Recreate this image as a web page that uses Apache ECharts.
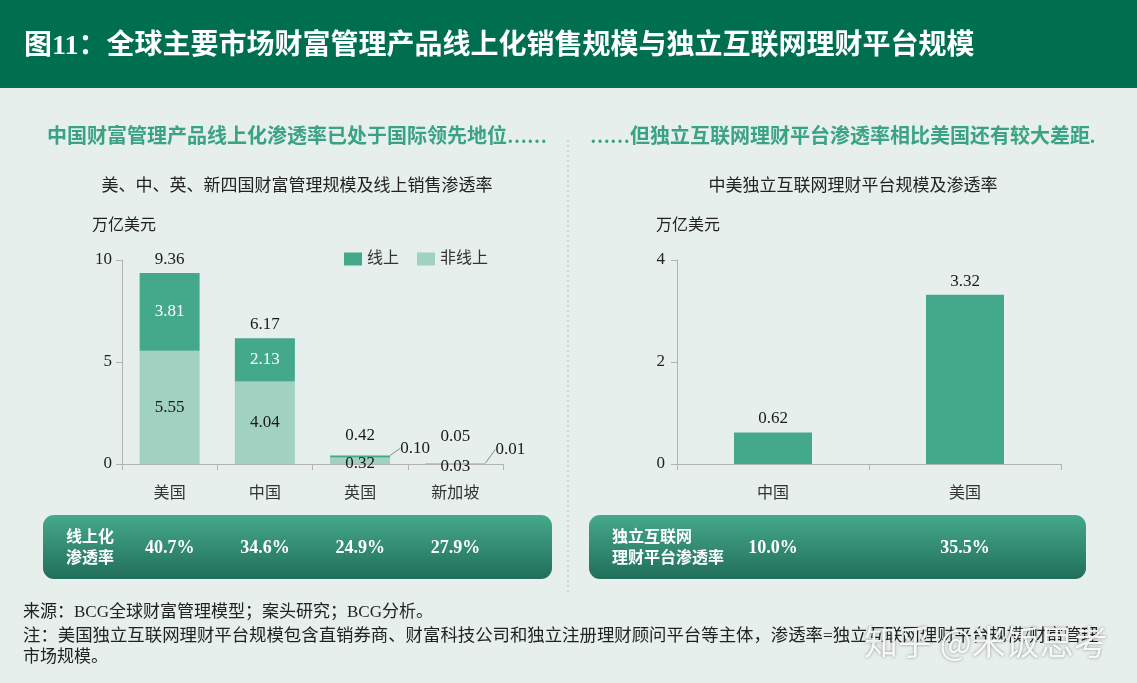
<!DOCTYPE html>
<html>
<head>
<meta charset="utf-8">
<script src="https://cdn.jsdelivr.net/npm/echarts@6/dist/echarts.min.js"></script>
<style>
  html, body { margin: 0; padding: 0; background: #e6efeb; }
  #main { width: 1137px; height: 683px; }
</style>
</head>
<body>
<div id="main"></div>
<script>
// 左图：四国财富管理规模（万亿美元）
var leftCats = ['美国', '中国', '英国', '新加坡'];
var offlineVals = [5.55, 4.04, 0.32, 0.03]; // 非线上
var onlineVals = [3.81, 2.13, 0.10, 0.01];  // 线上
var totalVals = [9.36, 6.17, 0.42, 0.05];
var onlineRates = ['40.7%', '34.6%', '24.9%', '27.9%'];

// 右图：独立互联网理财平台规模
var rightCats = ['中国', '美国'];
var platformVals = [0.62, 3.32];
var platformRates = ['10.0%', '35.5%'];

var SERIF = "'Liberation Serif', 'Noto Sans CJK SC', serif";
var GREEN = '#43a98a';
var LIGHT = '#a1d1c0';
var AXIS = '#b3b3b3';

// 两个坐标系的位置
var LG = { left: 122, top: 260, width: 381, height: 204 };
var RG = { left: 677, top: 260, width: 384, height: 204 };

var myChart = echarts.init(document.getElementById('main'));

function stripeGradient() {
  return new echarts.graphic.LinearGradient(0, 0, 0, 1, [
    { offset: 0, color: '#45a98b' },
    { offset: 1, color: '#216e5a' }
  ]);
}

function txt(x, y, text, size, color, opt) {
  opt = opt || {};
  return {
    type: 'text',
    x: x,
    y: y,
    z: 10,
    style: {
      text: text,
      fill: color,
      fontSize: size,
      fontFamily: opt.family || SERIF,
      fontWeight: opt.weight || 'normal',
      textAlign: opt.align || 'left',
      textVerticalAlign: 'middle',
      lineHeight: opt.lineHeight,
      textShadowColor: opt.shadow,
      textShadowBlur: opt.shadow ? 3 : 0
    }
  };
}

var graphics = [
  // 顶部标题栏
  { type: 'rect', shape: { x: 0, y: 0, width: 1137, height: 88 }, style: { fill: '#006f4f' } },
  txt(24, 47, '图11：全球主要市场财富管理产品线上化销售规模与独立互联网理财平台规模', 28, '#ffffff', { weight: 'bold' }),
  // 分隔虚线
  { type: 'line', shape: { x1: 568, y1: 140, x2: 568, y2: 592 }, style: { stroke: '#bcbcbc', lineWidth: 1, lineDash: [2, 3] } },
  // 小标题
  txt(47, 138, '中国财富管理产品线上化渗透率已处于国际领先地位……', 20, '#3aa383', { weight: 'bold' }),
  txt(590, 138, '……但独立互联网理财平台渗透率相比美国还有较大差距.', 20, '#3aa383', { weight: 'bold' }),
  txt(297, 187, '美、中、英、新四国财富管理规模及线上销售渗透率', 17, '#222', { align: 'center' }),
  txt(853, 187, '中美独立互联网理财平台规模及渗透率', 17, '#222', { align: 'center' }),
  txt(92, 226, '万亿美元', 16, '#222'),
  txt(656, 226, '万亿美元', 16, '#222'),
  // 渗透率条
  { type: 'rect', shape: { x: 43, y: 515, width: 509, height: 64, r: 11 }, style: { fill: stripeGradient() } },
  { type: 'rect', shape: { x: 589, y: 515, width: 497, height: 64, r: 11 }, style: { fill: stripeGradient() } },
  txt(66, 548, '线上化\n渗透率', 16, '#fff', { weight: 'bold', lineHeight: 21 }),
  txt(612, 548, '独立互联网\n理财平台渗透率', 16, '#fff', { weight: 'bold', lineHeight: 21 }),
  // 脚注
  txt(23, 613, '来源：BCG全球财富管理模型；案头研究；BCG分析。', 17, '#222'),
  txt(23, 636, '注：美国独立互联网理财平台规模包含直销券商、财富科技公司和独立注册理财顾问平台等主体，渗透率=独立互联网理财平台规模/财富管理', 17.4, '#222'),
  txt(23, 658, '市场规模。', 17, '#222'),
  // 水印
  txt(864, 642, '知乎 @米饭思考', 34, 'rgba(255,255,255,0.9)', { family: "'Noto Sans CJK SC', sans-serif", shadow: 'rgba(0,0,0,0.45)' })
];

// 渗透率数值，按类目中心放置
onlineRates.forEach(function (r, i) {
  graphics.push(txt(LG.left + (i + 0.5) * LG.width / leftCats.length, 548, r, 18, '#fff', { weight: 'bold', align: 'center' }));
});
platformRates.forEach(function (r, i) {
  graphics.push(txt(RG.left + (i + 0.5) * RG.width / rightCats.length, 548, r, 18, '#fff', { weight: 'bold', align: 'center' }));
});

function fmt2(p) {
  return Number(p.value).toFixed(2);
}

var labelFont = { fontSize: 17, fontFamily: SERIF, color: '#1a1a1a', formatter: fmt2 };

function axisCommon() {
  return {
    axisLine: { show: true, lineStyle: { color: AXIS } },
    axisTick: { show: true, length: 6, lineStyle: { color: AXIS } },
    splitLine: { show: false }
  };
}

var options = {
  backgroundColor: '#e6efeb',
  animation: false,
  graphic: graphics,
  legend: {
    data: ['线上', '非线上'],
    left: 339,
    top: 246,
    icon: 'rect',
    itemWidth: 18,
    itemHeight: 13,
    itemGap: 18,
    textStyle: { fontSize: 16, color: '#333', fontFamily: SERIF }
  },
  grid: [
    { left: LG.left, top: LG.top, width: LG.width, height: LG.height },
    { left: RG.left, top: RG.top, width: RG.width, height: RG.height }
  ],
  xAxis: [
    Object.assign(axisCommon(), {
      type: 'category', gridIndex: 0, data: leftCats,
      axisLabel: { fontSize: 16, color: '#333', margin: 22, fontFamily: SERIF }
    }),
    Object.assign(axisCommon(), {
      type: 'category', gridIndex: 1, data: rightCats,
      axisLabel: { fontSize: 16, color: '#333', margin: 22, fontFamily: SERIF }
    })
  ],
  yAxis: [
    Object.assign(axisCommon(), {
      type: 'value', gridIndex: 0, min: 0, max: 10, interval: 5,
      axisLabel: { fontSize: 17, color: '#222', margin: 10, fontFamily: SERIF }
    }),
    Object.assign(axisCommon(), {
      type: 'value', gridIndex: 1, min: 0, max: 4, interval: 2,
      axisLabel: { fontSize: 17, color: '#222', margin: 12, fontFamily: SERIF }
    })
  ],
  series: [
    {
      name: '非线上',
      type: 'bar',
      stack: 'left',
      xAxisIndex: 0,
      yAxisIndex: 0,
      barWidth: 60,
      itemStyle: { color: LIGHT },
      label: Object.assign({ show: true, position: 'inside' }, labelFont),
      data: offlineVals.map(function (v, i) {
        return i < 2 ? v : { value: v, label: { offset: [0, 3] } };
      })
    },
    {
      name: '线上',
      type: 'bar',
      stack: 'left',
      xAxisIndex: 0,
      yAxisIndex: 0,
      barWidth: 60,
      itemStyle: { color: GREEN },
      label: Object.assign({}, labelFont, { show: true, position: 'inside', color: '#fff' }),
      labelLine: { show: true, lineStyle: { color: '#888', width: 1 } },
      labelLayout: function (params) {
        if (params.dataIndex === 2) return { dx: 8, dy: -8 };
        if (params.dataIndex === 3) return { dx: 8, dy: -14 };
        return {};
      },
      data: onlineVals.map(function (v, i) {
        return i < 2 ? v : { value: v, label: { position: 'right', distance: 2, color: '#1a1a1a' } };
      })
    },
    {
      name: '合计',
      type: 'bar',
      xAxisIndex: 0,
      yAxisIndex: 0,
      barWidth: 60,
      barGap: '-100%',
      itemStyle: { color: 'rgba(0,0,0,0)' },
      label: Object.assign({ show: true, position: 'top', distance: 5 }, labelFont),
      data: totalVals.map(function (v, i) {
        if (i === 2) return { value: v, label: { distance: 11 } };
        if (i === 3) return { value: v, label: { distance: 18 } };
        return v;
      })
    },
    {
      name: '平台规模',
      type: 'bar',
      xAxisIndex: 1,
      yAxisIndex: 1,
      barWidth: 78,
      itemStyle: { color: GREEN },
      label: Object.assign({ show: true, position: 'top', distance: 5 }, labelFont),
      data: platformVals
    }
  ]
};

myChart.setOption(options);
</script>
</body>
</html>
